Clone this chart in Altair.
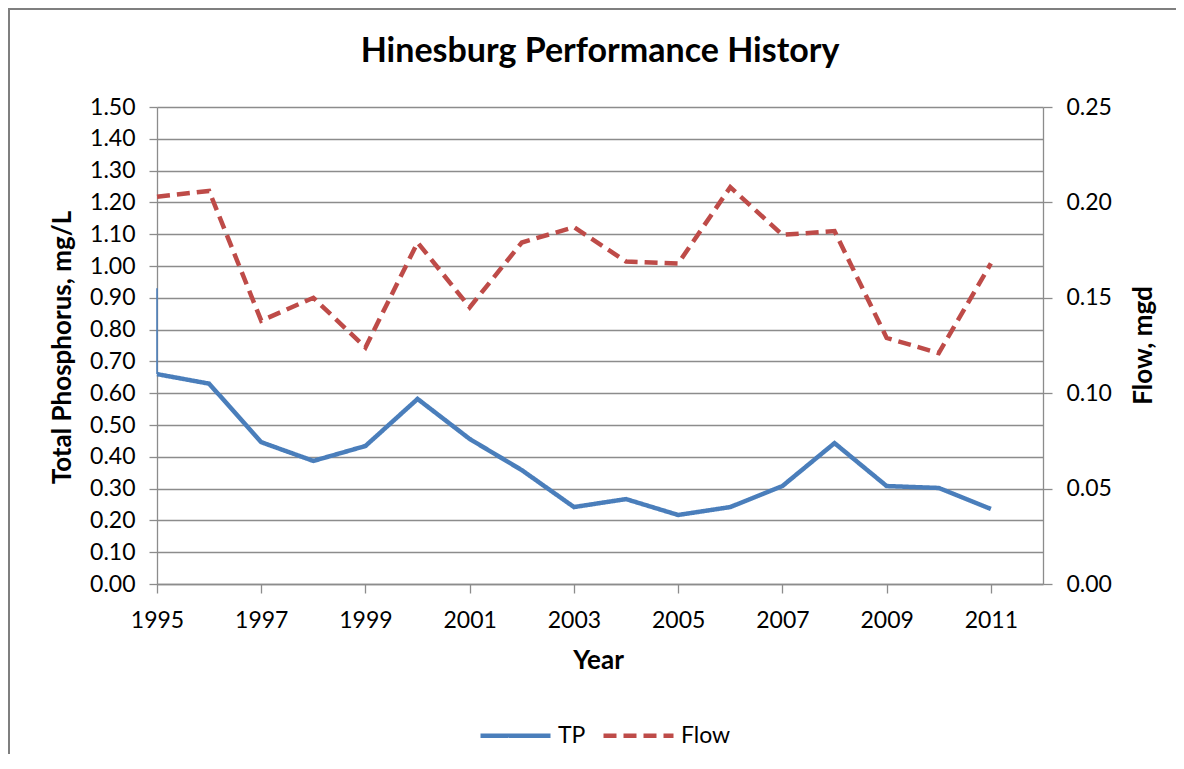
import altair as alt
import pandas as pd

# ---- data ----
tp_years = [1995, 1995, 1996, 1997, 1998, 1999, 2000, 2001, 2002, 2003,
            2004, 2005, 2006, 2007, 2008, 2009, 2010, 2011]
tp_values = [0.93, 0.66, 0.63, 0.446, 0.387, 0.434, 0.582, 0.456, 0.358, 0.242,
             0.267, 0.217, 0.242, 0.308, 0.443, 0.308, 0.302, 0.236]

flow_years = [1995, 1996, 1997, 1998, 1999, 2000, 2001, 2002, 2003,
              2004, 2005, 2006, 2007, 2008, 2009, 2010, 2011]
flow_values = [0.203, 0.206, 0.138, 0.150, 0.124, 0.179, 0.145, 0.179, 0.187,
               0.169, 0.168, 0.208, 0.183, 0.185, 0.129, 0.121, 0.168]

series_names = ["TP", "Flow"]
series_colors = ["#4A7EBB", "#BE4B48"]

x_ticks = [1995, 1997, 1999, 2001, 2003, 2005, 2007, 2009, 2011]
left_ticks = [round(i * 0.1, 2) for i in range(16)]
right_ticks = [0.0, 0.05, 0.10, 0.15, 0.20, 0.25]

FONT = "Lato"
GRAY = "#8c8c8c"
W, H = 886, 477

tp_all = pd.DataFrame({"year": tp_years, "value": tp_values, "series": "TP",
                       "idx": list(range(len(tp_values)))})
# the first (vertical) step at 1995 is drawn thin in the reference
tp_start = tp_all.iloc[:2]
tp_df = tp_all.iloc[1:]
flow_df = pd.DataFrame({"year": flow_years, "value": flow_values, "series": "Flow",
                        "idx": list(range(len(flow_values)))})

color_scale = alt.Scale(domain=series_names, range=series_colors)
dash_scale = alt.Scale(domain=series_names, range=[[1, 0], [13, 7]])

x_enc = alt.X(
    "year:Q",
    scale=alt.Scale(domain=[1995, 2012], nice=False, zero=False),
    axis=alt.Axis(values=x_ticks, format="d", title="Year", grid=False,
                  tickSize=9, labelPadding=16, labelFlush=False,
                  titleX=441, titleY=76,
                  titleBaseline="middle", titleAlign="center"),
)

legend = alt.Legend(title=None, orient="none", direction="horizontal",
                    legendX=321, legendY=591, symbolType="stroke",
                    symbolSize=4900, symbolStrokeWidth=4.5, labelFontSize=23,
                    labelFont=FONT, labelColor="#000000", labelOffset=5,
                    columnPadding=8)

y_left = alt.Y("value:Q",
               scale=alt.Scale(domain=[0, 1.5], nice=False),
               axis=alt.Axis(orient="left", values=left_ticks, format=".2f",
                             title="Total Phosphorus, mg/L", grid=True,
                             tickSize=8, labelPadding=14,
                             titleAngle=270, titleX=-95, titleY=240,
                             titleBaseline="middle", titleAlign="center"))

tp_spike = alt.Chart(tp_start).mark_line(strokeWidth=1.8, color=series_colors[0],
                                         opacity=0.85).encode(
    x=x_enc, y=y_left, order=alt.Order("idx:Q"),
)

tp_layer = alt.Chart(tp_df).mark_line(strokeWidth=4.5).encode(
    x=x_enc,
    y=y_left,
    color=alt.Color("series:N", scale=color_scale, legend=legend),
    strokeDash=alt.StrokeDash("series:N", scale=dash_scale, legend=legend),
    order=alt.Order("idx:Q"),
)

tp_group = alt.layer(tp_spike, tp_layer)

flow_layer = alt.Chart(flow_df).mark_line(strokeWidth=4.5).encode(
    x=x_enc,
    y=alt.Y("value:Q",
            scale=alt.Scale(domain=[0, 0.25], nice=False),
            axis=alt.Axis(orient="right", values=right_ticks, format=".2f",
                          title="Flow, mgd", grid=False,
                          tickSize=9, labelPadding=14,
                          titleAngle=270, titleX=100, titleY=238,
                          titleBaseline="middle", titleAlign="center")),
    color=alt.Color("series:N", scale=color_scale, legend=legend),
    strokeDash=alt.StrokeDash("series:N", scale=dash_scale, legend=legend),
    order=alt.Order("idx:Q"),
)

frame_df = pd.DataFrame({"k": [0]})
frame_left = alt.Chart(frame_df).mark_rule(color="#7f7f7f", strokeWidth=2).encode(
    x=alt.value(-148), y=alt.value(-99), y2=alt.value(700))
frame_top = alt.Chart(frame_df).mark_rule(color="#7f7f7f", strokeWidth=2).encode(
    x=alt.value(-149), x2=alt.value(1100), y=alt.value(-98))

chart = alt.layer(frame_left, frame_top, flow_layer, tp_group).resolve_scale(
    y="independent"
).properties(
    width=W, height=H,
    title=alt.Title("Hinesburg Performance History", fontSize=34, font=FONT,
                    fontWeight="bold", anchor="middle", color="#000000",
                    baseline="alphabetic", offset=0, dy=89),
    autosize=alt.AutoSizeParams(type="none"),
    padding={"left": 149, "top": 99, "right": 133, "bottom": 170},
).configure_view(strokeWidth=0).configure_axis(
    labelFont=FONT, labelFontSize=23, labelColor="#000000",
    titleFont=FONT, titleFontSize=26, titleFontWeight="bold", titleColor="#000000",
    gridColor=GRAY, gridWidth=1.3, domainColor=GRAY, domainWidth=1.3,
    tickColor=GRAY, tickWidth=1.3,
)

chart.save("out.html", embed_options={"renderer": "svg", "actions": False})
